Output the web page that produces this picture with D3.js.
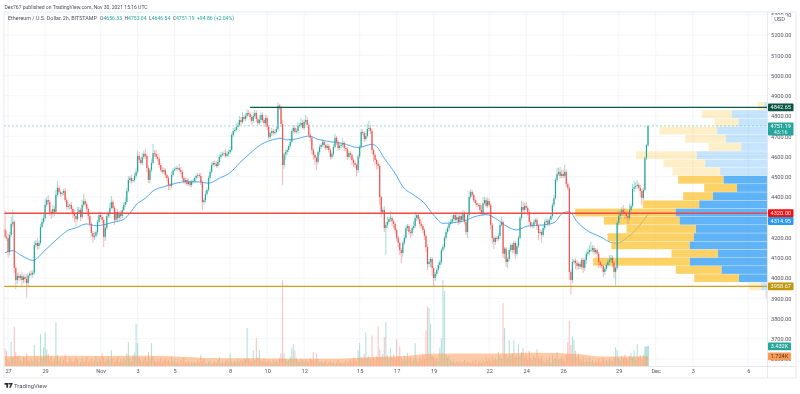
<!DOCTYPE html>
<html>
<head>
<meta charset="utf-8">
<style>
  html, body { margin: 0; padding: 0; background: #fff; overflow: hidden; }
  svg { display: block; font-family: Roboto, "Open Sans", sans-serif; filter: blur(0.35px); }
</style>
<script src="https://cdn.jsdelivr.net/npm/d3@7"></script>
</head>
<body>
<div class="canvas"></div>
<script>
const publishedBy = 'Dex767 published on TradingView.com, Nov 30, 2021 15:16 UTC';
const symbolTitle = 'Ethereum / U.S. Dollar, 2h, BITSTAMP';
const ohlcLegend = [['O', '4656.33'], ['H', '4753.04'], ['L', '4646.54'], ['C', '4751.19']];
const changeLegend = '+94.86 (+2.04%)';

// 2h bars, first one is Oct 26 20:00 UTC, each row below after the first is one day
const closes = [
  4203, 4198,
  4128, 4212, 4267, 4277, 4050, 3990, 4010, 4000, 4010, 3990, 4005, 3995,
  3975, 4012, 4022, 4017, 4027, 4163, 4173, 4158, 4173, 4252, 4277, 4296,
  4361, 4385, 4375, 4326, 4316, 4341, 4326, 4410, 4445, 4425, 4415, 4420,
  4430, 4385, 4351, 4356, 4361, 4341, 4321, 4306, 4291, 4326, 4336, 4301,
  4361, 4380, 4365, 4341, 4306, 4267, 4222, 4203, 4208, 4227, 4277, 4311,
  4301, 4287, 4203, 4247, 4306, 4316, 4346, 4375, 4346, 4287, 4326, 4296,
  4321, 4306, 4336, 4361, 4375, 4430, 4484, 4494, 4479, 4484, 4504, 4524,
  4603, 4583, 4568, 4598, 4613, 4603, 4543, 4484, 4533, 4568, 4617, 4613,
  4598, 4588, 4558, 4533, 4524, 4533, 4509, 4494, 4459, 4454, 4509, 4533,
  4538, 4543, 4543, 4533, 4524, 4494, 4474, 4484, 4464, 4474, 4459, 4474,
  4479, 4494, 4504, 4509, 4504, 4474, 4375, 4385, 4415, 4435, 4494, 4524,
  4558, 4568, 4563, 4553, 4573, 4598, 4608, 4613, 4617, 4603, 4613, 4622,
  4632, 4706, 4726, 4731, 4746, 4756, 4780, 4770, 4795, 4785, 4800, 4815,
  4810, 4795, 4775, 4800, 4815, 4785, 4765, 4780, 4805, 4780, 4765, 4790,
  4746, 4696, 4716, 4726, 4716, 4721, 4736, 4850, 4845, 4760, 4558, 4610,
  4622, 4632, 4652, 4672, 4726, 4741, 4721, 4726, 4751, 4756, 4766, 4741,
  4771, 4780, 4756, 4706, 4692, 4632, 4608, 4593, 4573, 4622, 4647, 4657,
  4672, 4657, 4642, 4652, 4632, 4598, 4613, 4647, 4692, 4672, 4642, 4652,
  4657, 4667, 4642, 4637, 4598, 4617, 4608, 4583, 4568, 4558, 4533, 4600,
  4647, 4721, 4716, 4686, 4701, 4736, 4741, 4726, 4632, 4608, 4583, 4563,
  4553, 4400, 4326, 4336, 4247, 4262, 4277, 4291, 4296, 4280, 4267, 4237,
  4198, 4173, 4138, 4123, 4173, 4198, 4247, 4257, 4227, 4222, 4247, 4257,
  4296, 4311, 4291, 4267, 4257, 4237, 4208, 4153, 4069, 4079, 4094, 4050,
  4000, 4020, 4040, 4064, 4079, 4138, 4153, 4198, 4227, 4247, 4267, 4277,
  4291, 4311, 4287, 4301, 4277, 4306, 4287, 4321, 4277, 4227, 4311, 4400,
  4425, 4410, 4385, 4370, 4361, 4361, 4336, 4321, 4370, 4385, 4356, 4380,
  4361, 4262, 4198, 4178, 4198, 4193, 4208, 4262, 4277, 4120, 4145, 4079,
  4094, 4138, 4163, 4138, 4173, 4119, 4158, 4198, 4296, 4351, 4336, 4356,
  4346, 4326, 4277, 4257, 4262, 4277, 4287, 4257, 4222, 4227, 4212, 4247,
  4277, 4282, 4267, 4287, 4306, 4361, 4395, 4484, 4514, 4524, 4504, 4514,
  4504, 4524, 4464, 4445, 4030, 3990, 4079, 4085, 4074, 4059, 4070, 4055,
  4089, 4050, 4089, 4119, 4128, 4138, 4138, 4148, 4128, 4138, 4119, 4079,
  4064, 4059, 4030, 4045, 4064, 4079, 4089, 4099, 4074, 4030, 4050, 4272,
  4306, 4316, 4336, 4326, 4316, 4306, 4296, 4336, 4356, 4440, 4450, 4454,
  4460, 4445, 4430, 4395, 4435, 4593, 4656.33, 4751.19
];

// wick lengths in dollars above / below the candle body
const upWick = [
  95, 30,
  20, 15, 35, 60, 10, 12, 15, 18, 10, 20, 12, 15,
  25, 12, 10, 15, 12, 20, 15, 25, 12, 15, 20, 18,
  30, 15, 25, 10, 12, 20, 15, 25, 35, 12, 10, 8,
  10, 15, 12, 20, 8, 15, 12, 18, 10, 25, 15, 10,
  25, 35, 12, 10, 8, 15, 10, 12, 18, 10, 12, 20,
  15, 10, 12, 18, 15, 12, 25, 30, 12, 10, 15, 12,
  10, 12, 15, 12, 20, 15, 18, 12, 15, 10, 15, 20,
  25, 20, 12, 18, 15, 25, 10, 15, 12, 18, 45, 15,
  20, 15, 12, 10, 15, 12, 10, 8, 10, 12, 15, 10,
  10, 12, 8, 20, 15, 10, 8, 12, 10, 15, 8, 12,
  10, 8, 12, 8, 10, 15, 8, 12, 15, 10, 12, 15,
  15, 10, 12, 15, 10, 12, 15, 10, 12, 20, 15, 12,
  18, 10, 15, 12, 18, 12, 20, 15, 25, 12, 15, 18,
  15, 12, 10, 18, 15, 12, 10, 25, 15, 12, 10, 15,
  12, 10, 8, 15, 10, 12, 15, 18, 10, 8, 20, 10,
  12, 10, 8, 15, 12, 10, 15, 12, 18, 10, 25, 15,
  12, 25, 15, 10, 12, 8, 10, 15, 8, 10, 12, 8,
  15, 10, 8, 12, 10, 8, 10, 15, 20, 10, 8, 12,
  10, 25, 8, 10, 8, 12, 10, 8, 10, 12, 8, 10,
  10, 15, 12, 10, 15, 25, 35, 15, 10, 8, 10, 8,
  10, 12, 8, 12, 20, 15, 25, 10, 35, 12, 10, 8,
  8, 10, 8, 10, 12, 15, 12, 10, 8, 10, 12, 25,
  30, 10, 8, 10, 12, 8, 10, 8, 12, 15, 10, 8,
  8, 10, 8, 12, 10, 8, 12, 10, 15, 10, 12, 15,
  20, 10, 15, 25, 12, 10, 8, 15, 10, 8, 10, 30,
  15, 10, 8, 12, 10, 8, 10, 25, 30, 15, 12, 18,
  12, 8, 10, 12, 8, 10, 15, 12, 25, 8, 10, 8,
  10, 12, 8, 10, 12, 8, 15, 12, 10, 30, 25, 15,
  20, 10, 12, 8, 10, 12, 8, 10, 12, 15, 10, 15,
  12, 15, 10, 12, 15, 10, 15, 12, 30, 20, 25, 20,
  20, 35, 12, 10, 8, 12, 15, 10, 12, 15, 10, 12,
  10, 12, 10, 15, 18, 25, 40, 15, 12, 10, 8, 10,
  8, 10, 8, 12, 10, 15, 25, 15, 12, 10, 8, 10,
  25, 20, 15, 25, 18, 12, 10, 30, 12, 25, 30, 20,
  25, 10, 15, 10, 12, 5, 5, 1.85
];

const downWick = [
  10, 15,
  25, 15, 10, 12, 25, 45, 20, 15, 12, 25, 15, 20,
  70, 15, 12, 10, 15, 10, 12, 20, 15, 10, 8, 12,
  12, 10, 15, 20, 25, 15, 20, 10, 8, 12, 15, 10,
  12, 10, 15, 12, 20, 15, 25, 30, 35, 12, 10, 20,
  10, 8, 12, 15, 20, 15, 18, 30, 15, 10, 12, 8,
  10, 15, 50, 20, 12, 10, 15, 8, 12, 25, 10, 15,
  12, 15, 10, 8, 12, 10, 8, 15, 12, 8, 10, 12,
  12, 15, 10, 12, 8, 15, 20, 15, 18, 10, 8, 15,
  10, 12, 15, 10, 12, 10, 15, 18, 25, 20, 10, 8,
  8, 10, 12, 10, 12, 15, 10, 12, 10, 8, 12, 10,
  8, 10, 8, 12, 10, 15, 40, 12, 15, 10, 8, 12,
  10, 8, 12, 10, 8, 15, 10, 8, 12, 10, 8, 15,
  10, 8, 12, 10, 8, 12, 10, 15, 8, 12, 10, 12,
  12, 15, 18, 10, 12, 15, 12, 10, 15, 12, 20, 10,
  15, 12, 10, 15, 12, 10, 8, 12, 15, 10, 99, 20,
  25, 15, 12, 10, 8, 12, 10, 8, 15, 10, 12, 8,
  10, 12, 15, 12, 18, 22, 25, 35, 40, 12, 15, 10,
  10, 15, 12, 10, 12, 15, 10, 12, 8, 15, 12, 10,
  12, 10, 15, 12, 15, 10, 18, 25, 20, 15, 30, 15,
  10, 8, 12, 15, 10, 8, 12, 15, 20, 35, 25, 30,
  15, 40, 25, 10, 20, 133, 15, 12, 15, 25, 20, 18,
  15, 20, 25, 50, 18, 12, 10, 15, 12, 25, 15, 10,
  12, 15, 10, 18, 12, 15, 20, 25, 30, 15, 25, 40,
  40, 15, 12, 10, 15, 12, 10, 8, 12, 10, 15, 8,
  10, 12, 10, 8, 15, 10, 12, 8, 12, 15, 30, 10,
  10, 12, 10, 8, 12, 10, 15, 12, 15, 10, 8, 12,
  10, 25, 30, 35, 15, 12, 10, 15, 8, 20, 25, 25,
  30, 12, 10, 18, 15, 25, 12, 10, 8, 12, 10, 15,
  12, 18, 15, 10, 12, 15, 10, 20, 35, 12, 40, 10,
  10, 8, 12, 10, 8, 12, 10, 8, 12, 10, 15, 10,
  12, 10, 15, 12, 40, 69, 15, 12, 30, 20, 15, 12,
  12, 25, 15, 20, 12, 15, 10, 12, 15, 10, 20, 30,
  15, 12, 25, 15, 10, 12, 18, 15, 20, 30, 65, 10,
  12, 15, 10, 18, 25, 12, 30, 10, 12, 8, 15, 10,
  15, 12, 30, 35, 10, 8, 10, 9.8
];

// volume in thousands
const volumes = [
  3.0, 2.6,
  1.2, 0.8, 4.1, 1.5, 6.6, 2.4, 1.7, 1.9, 1.1, 0.9, 1.6, 1.3,
  2.2, 1.1, 0.7, 1.3, 0.9, 3.6, 1.2, 1.6, 0.8, 5.4, 1.4, 3.2,
  5.6, 2.9, 2.1, 1.0, 1.7, 0.8, 1.2, 7.4, 1.9, 0.9, 1.3, 0.6,
  1.1, 2.0, 0.8, 0.6, 1.4, 1.0, 0.7, 0.9, 1.5, 1.2, 0.5, 0.8,
  1.3, 0.7, 1.0, 1.6, 0.6, 0.9, 1.4, 0.7, 1.1, 1.7, 0.8, 1.3,
  0.9, 2.2, 1.5, 0.8, 1.2, 1.7, 1.0, 2.7, 1.3, 0.7, 1.1, 1.6,
  0.8, 1.2, 0.9, 1.4, 1.0, 2.2, 4.1, 1.3, 0.9, 1.8, 2.3, 7.1,
  3.9, 1.5, 1.1, 0.8, 1.3, 1.6, 0.9, 2.4, 1.2, 3.9, 1.7, 1.0,
  0.7, 1.2, 0.9, 1.5, 0.6, 1.0, 1.3, 0.8, 1.1, 0.7, 1.6, 0.9,
  1.2, 0.6, 0.9, 0.5, 1.1, 0.7, 1.4, 0.8, 0.6, 1.0, 0.5, 0.9,
  0.6, 0.8, 0.5, 1.0, 0.7, 2.0, 0.9, 1.3, 0.6, 0.5, 0.8, 1.0,
  0.5, 0.7, 0.9, 0.6, 1.1, 1.6, 0.5, 0.8, 0.6, 0.9, 1.2, 0.7,
  2.2, 0.9, 0.6, 1.0, 0.7, 1.3, 0.8, 1.1, 0.9, 1.4, 1.2, 6.4,
  1.4, 1.0, 0.8, 2.7, 1.1, 4.7, 1.5, 2.7, 1.0, 0.8, 1.3, 0.9,
  0.7, 1.1, 0.9, 0.6, 1.2, 0.8, 1.0, 0.7, 1.4, 2.2, 14.4, 2.2,
  1.3, 0.9, 1.1, 1.6, 3.0, 3.7, 2.7, 1.4, 1.0, 0.8, 1.3, 1.1,
  0.8, 1.2, 0.9, 0.7, 1.4, 1.1, 2.4, 1.0, 2.2, 1.3, 0.7, 0.9,
  0.6, 0.8, 1.0, 0.5, 0.7, 0.9, 0.6, 0.8, 0.5, 0.7, 1.1, 0.6,
  0.8, 0.5, 0.7, 1.0, 0.6, 0.9, 1.2, 0.7, 1.4, 1.0, 0.9, 2.7,
  3.9, 1.6, 1.3, 2.1, 5.7, 1.4, 1.8, 1.2, 5.2, 1.5, 1.1, 1.7,
  6.7, 2.8, 1.6, 2.1, 4.9, 7.4, 1.9, 1.3, 3.0, 1.5, 2.0, 1.2,
  4.5, 1.7, 3.3, 1.4, 1.0, 1.8, 1.1, 2.3, 1.3, 1.6, 0.9, 1.2,
  3.9, 1.2, 0.8, 1.5, 1.0, 1.9, 1.3, 6.0, 10.0, 9.7, 7.1, 1.8,
  1.6, 1.1, 1.4, 0.9, 3.2, 4.7, 14.4, 12.6, 2.0, 1.5, 1.8, 1.1,
  0.8, 1.2, 0.6, 0.9, 0.7, 1.0, 0.5, 0.8, 1.1, 0.6, 0.9, 0.7,
  0.6, 0.9, 0.7, 1.1, 0.5, 0.8, 1.0, 0.6, 1.2, 0.7, 1.5, 0.9,
  1.3, 0.8, 1.6, 1.0, 1.4, 1.1, 2.4, 1.8, 1.3, 10.6, 6.4, 2.1,
  1.5, 4.4, 1.8, 2.2, 4.4, 1.6, 2.0, 3.6, 1.7, 2.4, 3.1, 1.5,
  1.9, 1.2, 2.6, 1.4, 1.1, 1.8, 1.3, 2.9, 1.5, 1.2, 1.7, 1.0,
  0.8, 1.3, 1.0, 1.6, 0.7, 1.9, 1.2, 1.4, 2.4, 1.1, 1.3, 1.6,
  1.2, 0.9, 2.0, 4.1, 7.6, 3.6, 5.0, 4.4, 2.6, 1.5, 2.1, 1.3,
  1.0, 1.6, 0.7, 1.2, 0.9, 1.4, 0.8, 1.1, 0.6, 1.0, 0.7, 1.3,
  0.6, 0.9, 1.5, 0.7, 1.1, 0.8, 1.3, 1.0, 0.9, 1.6, 3.2, 2.7,
  1.5, 1.0, 1.8, 1.3, 2.0, 1.4, 1.1, 1.7, 2.2, 1.5, 2.7, 1.2,
  3.7, 1.5, 1.9, 1.2, 2.0, 3.3, 3.40, 3.432
];

// moving average on price, read at these bars only
const maBars = [0, 5, 10, 14, 18, 21, 25, 30, 36, 40, 46, 53, 59, 65, 70, 77, 81, 85, 91, 96, 103, 111, 118, 126, 132, 139, 146, 152, 159, 165, 171, 176, 179, 183, 189, 197, 203, 211, 219, 229, 238, 241, 246, 253, 258, 265, 271, 278, 284, 293, 298, 306, 312, 319, 324, 332, 339, 349, 356, 362, 366, 371, 377, 386, 394, 397, 403, 410, 417];
const maPrices = [4125, 4135, 4114, 4097, 4087, 4099, 4130, 4166, 4207, 4232, 4248, 4267, 4258, 4265, 4275, 4290, 4320, 4361, 4394, 4430, 4451, 4468, 4476, 4474, 4468, 4493, 4520, 4567, 4616, 4654, 4677, 4687, 4690, 4682, 4687, 4701, 4685, 4673, 4665, 4644, 4660, 4649, 4591, 4517, 4451, 4410, 4377, 4311, 4270, 4275, 4283, 4306, 4313, 4290, 4262, 4237, 4257, 4262, 4273, 4322, 4327, 4278, 4237, 4204, 4174, 4173, 4196, 4246, 4314.95];

// moving average on volume, thousands
const volMaBars = [0, 25, 62, 94, 112, 131, 170, 213, 235, 256, 282, 321, 342, 373, 386, 417];
const volMaValues = [1.7, 1.78, 1.75, 1.78, 1.65, 1.4, 1.35, 1.3, 1.55, 1.7, 2.15, 2.15, 2.3, 2.05, 1.65, 1.724];

// visible range volume profile, top row first
const profileUp = [9, 107, 87, 151, 125, 79, 212, 187, 142, 132, 92, 164, 205, 276, 264, 215, 221, 234, 149, 233, 138, 86, 19, 4];
const profileDown = [20, 90, 72, 173, 122, 98, 182, 125, 143, 136, 98, 89, 169, 301, 227, 208, 259, 235, 139, 290, 137, 134, 37, 4];
const profileTop = 4869;
const profileRowSize = 40.5;
const valueAreaHigh = 4505;
const valueAreaLow = 3976;

const resistance = 4842.65;
const pivot = 4320;
const support = 3958.67;
const lastPrice = 4751.19;

const priceTicks = d3.range(3600, 5400, 100);
const dateTicks = [
  [Date.UTC(2021, 9, 27), '27'], [Date.UTC(2021, 9, 29), '29'], [Date.UTC(2021, 10, 1), 'Nov'],
  [Date.UTC(2021, 10, 3), '3'], [Date.UTC(2021, 10, 5), '5'], [Date.UTC(2021, 10, 8), '8'],
  [Date.UTC(2021, 10, 10), '10'], [Date.UTC(2021, 10, 12), '12'], [Date.UTC(2021, 10, 15), '15'],
  [Date.UTC(2021, 10, 17), '17'], [Date.UTC(2021, 10, 19), '19'], [Date.UTC(2021, 10, 22), '22'],
  [Date.UTC(2021, 10, 24), '24'], [Date.UTC(2021, 10, 26), '26'], [Date.UTC(2021, 10, 29), '29'],
  [Date.UTC(2021, 11, 1), 'Dec'], [Date.UTC(2021, 11, 3), '3'], [Date.UTC(2021, 11, 6), '6']
];

const width = 800;
const height = 394;
const pane = { left: 4, right: 767.5, top: 12, bottom: 366.5, outerRight: 796, outerBottom: 378 };
const upColor = '#26a69a';
const downColor = '#ef5350';
const gridColor = '#eff2f8';
const frameColor = '#e0e3eb';
const axisText = '#50535e';

const barMs = 2 * 3600 * 1000;
const firstBar = Date.UTC(2021, 9, 26, 20);
const x = d3.scaleUtc()
  .domain([Date.UTC(2021, 9, 27), Date.UTC(2021, 11, 1)])
  .range([8.1, 655.7]);
const barX = i => x(firstBar + i * barMs);
const y = d3.scaleLinear().domain([4000, 5000]).range([278, 75.5]);
const volY = d3.scaleLinear().domain([0, 14.4]).range([pane.bottom, 280.2]);
const profW = d3.scaleLinear().domain([0, 577]).range([0, 192.3]);

const bars = closes.map((close, i) => {
  const open = i === 0 ? 4240 : closes[i - 1];
  return {
    i, open, close,
    high: Math.max(open, close) + upWick[i],
    low: Math.min(open, close) - downWick[i],
    volume: volumes[i],
    up: close >= open
  };
});

const svg = d3.select('.canvas')
  .append('svg')
  .attr('width', width)
  .attr('height', height)
  .attr('viewBox', [0, 0, width, height]);

svg.append('defs').append('clipPath').attr('id', 'pane')
  .append('rect')
  .attr('x', pane.left).attr('y', pane.top)
  .attr('width', pane.right - pane.left).attr('height', pane.bottom - pane.top);

// grid
const grid = svg.append('g');
grid.selectAll('.gy').data(priceTicks).join('line')
  .attr('x1', pane.left).attr('x2', pane.right)
  .attr('y1', d => y(d)).attr('y2', d => y(d))
  .attr('stroke', gridColor).attr('stroke-width', 0.8);
grid.selectAll('.gx').data(dateTicks).join('line')
  .attr('x1', d => x(d[0])).attr('x2', d => x(d[0]))
  .attr('y1', pane.top).attr('y2', pane.bottom)
  .attr('stroke', gridColor).attr('stroke-width', 0.8);

const plot = svg.append('g').attr('clip-path', 'url(#pane)');

// volume
plot.append('g').selectAll('rect').data(bars).join('rect')
  .attr('x', d => barX(d.i) - 0.55)
  .attr('width', d => d.i >= 415 ? 1.55 : 1.1)
  .attr('y', d => volY(d.volume))
  .attr('height', d => pane.bottom - volY(d.volume))
  .attr('fill', d => d.up ? upColor : downColor)
  .attr('fill-opacity', 0.34);

plot.append('path')
  .datum(volMaBars.map((b, k) => [b, volMaValues[k]]))
  .attr('d', d3.area().curve(d3.curveMonotoneX)
    .x(d => barX(d[0])).y0(pane.bottom).y1(d => volY(d[1])))
  .attr('fill', '#ff9850')
  .attr('fill-opacity', 0.5);

// price moving average
plot.append('path')
  .datum(maBars.map((b, k) => [b, maPrices[k]]))
  .attr('d', d3.line().curve(d3.curveMonotoneX).x(d => barX(d[0])).y(d => y(d[1])))
  .attr('fill', 'none')
  .attr('stroke', '#3ba0f0')
  .attr('stroke-width', 0.9);

// volume profile
const profileRows = profileUp.map((up, k) => ({
  up, down: profileDown[k],
  top: profileTop - k * profileRowSize,
  bottom: profileTop - (k + 1) * profileRowSize
}));
const inValueArea = d => d.top <= valueAreaHigh && d.bottom >= valueAreaLow - 1;

const rows = plot.append('g').selectAll('g').data(profileRows).join('g');
rows.append('rect')
  .attr('x', d => pane.right - profW(d.up))
  .attr('width', d => profW(d.up))
  .attr('y', d => y(d.top)).attr('height', d => y(d.bottom) - y(d.top) - 0.4)
  .attr('fill', '#2196f3')
  .attr('fill-opacity', d => inValueArea(d) ? 0.72 : 0.26);
rows.append('rect')
  .attr('x', d => pane.right - profW(d.up) - profW(d.down))
  .attr('width', d => profW(d.down))
  .attr('y', d => y(d.top)).attr('height', d => y(d.bottom) - y(d.top) - 0.4)
  .attr('fill', '#fbc02d')
  .attr('fill-opacity', d => inValueArea(d) ? 0.72 : 0.26);

// candles
plot.append('g').selectAll('line').data(bars).join('line')
  .attr('x1', d => barX(d.i)).attr('x2', d => barX(d.i))
  .attr('y1', d => y(d.high)).attr('y2', d => y(d.low))
  .attr('stroke', d => d.up ? upColor : downColor)
  .attr('stroke-opacity', 0.42)
  .attr('stroke-width', 1);
plot.append('g').selectAll('rect').data(bars).join('rect')
  .attr('x', d => barX(d.i) - 0.6)
  .attr('width', 1.2)
  .attr('y', d => y(Math.max(d.open, d.close)))
  .attr('height', d => Math.max(0.8, Math.abs(y(d.open) - y(d.close))))
  .attr('fill', d => d.up ? upColor : downColor);

// drawn levels
plot.append('line')
  .attr('x1', pane.left).attr('x2', pane.right)
  .attr('y1', y(lastPrice)).attr('y2', y(lastPrice))
  .attr('stroke', '#8fd3cc').attr('stroke-width', 0.9).attr('stroke-dasharray', '2 2');
plot.append('line')
  .attr('x1', barX(159)).attr('x2', pane.right)
  .attr('y1', y(resistance)).attr('y2', y(resistance))
  .attr('stroke', '#0b5a4c').attr('stroke-width', 1.1);
plot.append('line')
  .attr('x1', pane.left).attr('x2', pane.right)
  .attr('y1', y(pivot)).attr('y2', y(pivot))
  .attr('stroke', '#f4474a').attr('stroke-width', 1.4);
plot.append('line')
  .attr('x1', pane.left).attr('x2', pane.right)
  .attr('y1', y(support)).attr('y2', y(support))
  .attr('stroke', '#d1a11e').attr('stroke-width', 1.4);

// frame
const frame = svg.append('g').attr('stroke', frameColor).attr('stroke-width', 0.8).attr('fill', 'none');
frame.append('rect')
  .attr('x', pane.left).attr('y', pane.top)
  .attr('width', pane.outerRight - pane.left).attr('height', pane.outerBottom - pane.top);
frame.append('line').attr('x1', pane.right).attr('x2', pane.right).attr('y1', pane.top).attr('y2', pane.outerBottom);
frame.append('line').attr('x1', pane.left).attr('x2', pane.outerRight).attr('y1', pane.bottom).attr('y2', pane.bottom);

// axes, the 4300 label sits behind the red tag in the source so it is left out
const yAxis = svg.append('g')
  .attr('transform', `translate(771,0)`)
  .call(d3.axisRight(y).tickValues(priceTicks).tickSize(0).tickPadding(0)
    .tickFormat(d => d === 4300 ? '' : d3.format('.2f')(d)));
yAxis.select('.domain').remove();
yAxis.selectAll('text').attr('font-size', 5.6).attr('fill', axisText).attr('font-family', 'Roboto');

const xAxis = svg.append('g')
  .attr('transform', `translate(0,${pane.bottom})`)
  .call(d3.axisBottom(x)
    .tickValues(dateTicks.map(d => d[0]))
    .tickSize(0).tickPadding(3)
    .tickFormat((d, i) => dateTicks[i][1]));
xAxis.select('.domain').remove();
xAxis.selectAll('text').attr('font-size', 5.6).attr('fill', axisText).attr('font-family', 'Roboto');

// price tags on the axis
const tags = [
  { text: resistance.toFixed(2), cy: y(resistance), bg: '#0b5345', w: 25.5 },
  { text: pivot.toFixed(2), cy: y(pivot), bg: '#f60f0f', w: 25.5 },
  { text: maPrices[maPrices.length - 1].toFixed(2), cy: 221, bg: '#2b98f0', w: 25.5 },
  { text: support.toFixed(2), cy: y(support), bg: '#bf960c', w: 25.5 },
  { text: '3.432K', cy: 346.3, bg: '#26a69a', w: 23 },
  { text: '1.724K', cy: 356.3, bg: '#ff9a55', w: 23, fg: '#3a3a3a' }
];
const tag = svg.append('g').selectAll('g').data(tags).join('g')
  .attr('transform', d => `translate(768,${d.cy})`);
tag.append('rect')
  .attr('y', -3.9).attr('height', 7.8).attr('rx', 0.8)
  .attr('width', d => d.w)
  .attr('fill', d => d.bg);
tag.append('text')
  .attr('x', d => d.w / 2).attr('y', 2)
  .attr('text-anchor', 'middle')
  .attr('font-size', 5.6)
  .attr('fill', d => d.fg || '#fff')
  .text(d => d.text);

const lastTag = svg.append('g').attr('transform', `translate(768,${y(lastPrice) - 3.4})`);
lastTag.append('rect').attr('width', 25.5).attr('height', 13).attr('rx', 0.8).attr('fill', upColor);
lastTag.append('text').attr('x', 12.7).attr('y', 5.6).attr('text-anchor', 'middle')
  .attr('font-size', 5.6).attr('fill', '#fff').text(lastPrice.toFixed(2));
lastTag.append('text').attr('x', 12.7).attr('y', 11.4).attr('text-anchor', 'middle')
  .attr('font-size', 5.6).attr('fill', '#fff').attr('fill-opacity', 0.85).text('43:16');

// USD badge
const usd = svg.append('g').attr('transform', 'translate(771.7,15)');
usd.append('rect').attr('width', 15.6).attr('height', 7.4).attr('rx', 1.5)
  .attr('fill', '#fff').attr('stroke', '#e4e7ee').attr('stroke-width', 0.6);
usd.append('text').attr('x', 7.8).attr('y', 5.6).attr('text-anchor', 'middle')
  .attr('font-size', 5.6).attr('fill', axisText).text('USD');

// header
svg.append('text').attr('x', 4.5).attr('y', 8.6)
  .attr('font-size', 5.05).attr('fill', '#4b4e59').text(publishedBy);

const legend = svg.append('text').attr('x', 8).attr('y', 20.2).attr('font-size', 5.4).attr('fill', '#4b4e59');
legend.append('tspan').text(symbolTitle);
ohlcLegend.forEach((d, i) => {
  legend.append('tspan').attr('dx', i === 0 ? 3 : 2.4).attr('font-size', 5.1).text(d[0]);
  legend.append('tspan').attr('font-size', 5.1).attr('fill', upColor).text(d[1]);
});
legend.append('tspan').attr('dx', 2.4).attr('font-size', 5.1).attr('fill', upColor).text(changeLegend);

// TradingView mark
const logo = svg.append('g').attr('transform', 'translate(4.5,383)').attr('fill', '#2a2e39');
logo.append('path').attr('d', 'M0 0h3.6v4.8h-1.8v-3h-1.8zM3.9 0h4.5l-2.2 4.8h-1.6l1.4-3.2h-2.1z');
svg.append('text').attr('x', 14).attr('y', 388.2)
  .attr('font-size', 6).attr('fill', '#50535e').text('TradingView');
</script>
</body>
</html>
